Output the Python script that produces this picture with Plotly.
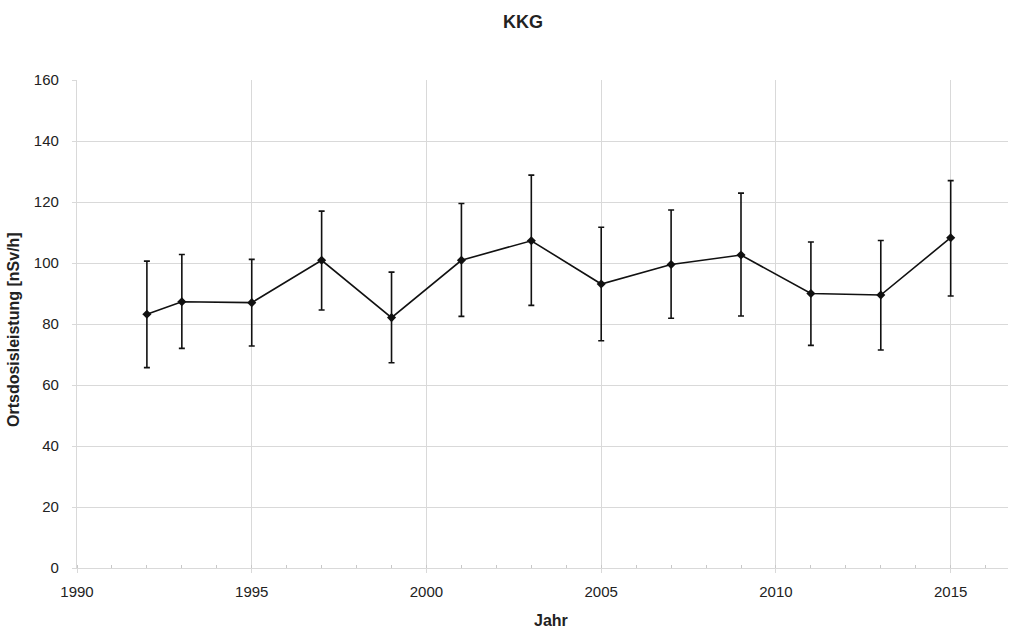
import plotly.graph_objects as go

years = [1992, 1993, 1995, 1997, 1999, 2001, 2003, 2005, 2007, 2009, 2011, 2013, 2015]
mean = [83.2, 87.3, 87.0, 100.9, 82.1, 100.9, 107.3, 93.1, 99.5, 102.6, 90.0, 89.5, 108.3]
upper = [100.6, 102.8, 101.2, 117.0, 97.0, 119.5, 128.8, 111.7, 117.4, 122.9, 106.9, 107.4, 127.0]
lower = [65.7, 72.0, 72.8, 84.6, 67.3, 82.5, 86.1, 74.5, 81.9, 82.6, 73.0, 71.5, 89.2]

err_plus = [u - m for u, m in zip(upper, mean)]
err_minus = [m - l for m, l in zip(mean, lower)]

FONT = "Liberation Sans, Arial, sans-serif"
GRID = "#d9d9d9"

L, R, T, B = 77, 2, 80, 60
W, H = 1010, 628
pw = W - L - R
ph = H - T - B

fig = go.Figure()
fig.add_trace(go.Scatter(
    x=years, y=mean, mode="lines+markers",
    line=dict(color="#111111", width=1.6),
    marker=dict(symbol="diamond", size=7, color="#111111"),
    error_y=dict(type="data", symmetric=False, array=err_plus, arrayminus=err_minus,
                 color="#111111", thickness=1.6, width=3),
    showlegend=False,
))

fig.update_layout(
    width=W, height=H,
    margin=dict(l=L, r=R, t=T, b=B, autoexpand=False),
    paper_bgcolor="white", plot_bgcolor="white",
    font=dict(family=FONT, size=15, color="#333333"),
    title=dict(text="<b>KKG</b>", x=523 / W, xref="container", xanchor="center",
               y=1 - 22 / H, yref="container", yanchor="middle",
               font=dict(size=18, color="#222222", family=FONT)),
    xaxis=dict(range=[1990, 2016.64], tickvals=[1990, 1995, 2000, 2005, 2010, 2015],
               showgrid=True, gridcolor=GRID, gridwidth=1.2,
               showline=True, linecolor=GRID, linewidth=1.2,
               ticks="outside", ticklen=4, tickcolor=GRID, ticklabelstandoff=6,
               minor=dict(dtick=1, ticks="inside", ticklen=3, tickcolor="#c8c8c8", showgrid=False),
               zeroline=False, automargin=False, tickfont=dict(size=15, color="#222222")),
    yaxis=dict(range=[0, 160], dtick=20,
               showgrid=True, gridcolor=GRID, gridwidth=1.2,
               showline=True, linecolor=GRID, linewidth=1.2,
               ticks="outside", ticklen=4, tickcolor=GRID, ticklabelstandoff=10,
               zeroline=False, automargin=False, tickfont=dict(size=15, color="#222222")),
    annotations=[
        dict(text="<b>Jahr</b>", xref="paper", yref="paper",
             x=(551 - L) / pw, y=(H - B - 620) / ph,
             showarrow=False, xanchor="center", yanchor="middle",
             font=dict(size=16, color="#222222", family=FONT)),
        dict(text="<b>Ortsdosisleistung [nSv/h]</b>", textangle=-90,
             xref="paper", yref="paper",
             x=(13 - L) / pw, y=(H - B - 330) / ph,
             xanchor="center", yanchor="middle", showarrow=False,
             font=dict(size=16, color="#222222", family=FONT)),
    ],
)

fig.write_html("out.html", config={"displayModeBar": False},
               post_script="document.body.style.margin='0';document.body.style.overflow='hidden';")
